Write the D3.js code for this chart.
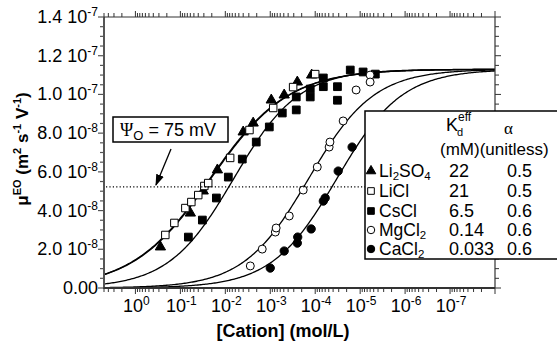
<!DOCTYPE html>
<html>
<head>
<meta charset="utf-8">
<script src="https://cdn.jsdelivr.net/npm/d3@7"></script>
<style>
  html, body { margin: 0; padding: 0; background: #fff; }
  svg { display: block; font-family: "Liberation Sans", Arial, Helvetica, sans-serif; }
</style>
</head>
<body>
<svg id="chart" width="557" height="343"></svg>
<script>
// ---------------- DATA ----------------
const seriesNames = ["Li2SO4", "LiCl", "CsCl", "MgCl2", "CaCl2"];
const kdEff_mM   = [22, 21, 6.5, 0.14, 0.033];      // legend K_d^eff (mM)
const alphaVals  = [0.5, 0.5, 0.6, 0.6, 0.6];       // legend alpha
const kdLabels   = ["22", "21", "6.5", "0.14", "0.033"];
const alphaLabels= ["0.5", "0.5", "0.6", "0.6", "0.6"];
const muMax = 1.13e-7;                               // plateau of fitted curves

// measured points: [Cation] (mol/L), mobility (m2 s-1 V-1)
const li2so4Conc = [0.278, 0.060, 0.031, 0.015, 0.004, 0.0024, 9.5e-4, 4.9e-4, 2.5e-4, 1.2e-4];
const li2so4Mu   = [2.12e-8, 3.87e-8, 5.01e-8, 6.10e-8, 8.06e-8, 8.52e-8, 9.71e-8, 9.97e-8, 1.064e-7, 1.10e-7];

const liclConc = [0.216, 0.136, 0.0774, 0.057, 0.040, 0.0293, 0.024, 0.0078, 0.0029, 8.6e-4, 3.1e-4, 1.0e-4];
const liclMu   = [2.74e-8, 3.36e-8, 4.13e-8, 4.44e-8, 4.80e-8, 5.27e-8, 5.42e-8, 6.72e-8, 8.16e-8, 9.30e-8, 1.038e-7, 1.105e-7];

const csclConc = [0.0664, 0.0324, 0.0158, 0.00857, 0.00419, 0.00205, 0.00105, 5.4e-4, 2.64e-4, 2.64e-4, 1.29e-4, 1.29e-4, 6.6e-5, 6.6e-5, 3.2e-5, 3.2e-5, 1.66e-5, 8.6e-6, 4.6e-6];
const csclMu   = [2.63e-8, 3.51e-8, 4.65e-8, 5.73e-8, 6.66e-8, 7.54e-8, 8.32e-8, 9.04e-8, 9.87e-8, 9.20e-8, 1.028e-7, 9.87e-8, 1.085e-7, 1.04e-7, 1.04e-7, 9.7e-8, 1.126e-7, 1.116e-7, 1.105e-7];

const mgcl2Conc = [2.78e-3, 1.51e-3, 7.7e-4, 7.4e-4, 3.78e-4, 1.85e-4, 9.0e-5, 4.9e-5, 4.7e-5, 2.39e-5, 1.23e-5, 6.0e-6, 6.0e-6];
const mgcl2Mu   = [1.14e-8, 2.01e-8, 2.89e-8, 3.10e-8, 3.72e-8, 5.06e-8, 6.25e-8, 7.28e-8, 7.54e-8, 8.63e-8, 1.023e-7, 1.10e-7, 1.064e-7];

const cacl2Conc = [1.0e-3, 4.9e-4, 2.5e-4, 2.45e-4, 1.23e-4, 6.6e-5, 6.0e-5, 3.08e-5, 1.51e-5];
const cacl2Mu   = [1.03e-8, 1.91e-8, 2.32e-8, 2.63e-8, 3.05e-8, 4.49e-8, 4.65e-8, 6.04e-8, 7.28e-8];

const xTickValues = [1, 1e-1, 1e-2, 1e-3, 1e-4, 1e-5, 1e-6, 1e-7];
const xTickExp    = ["0", "-1", "-2", "-3", "-4", "-5", "-6", "-7"];
const yTickValues = [0, 2e-8, 4e-8, 6e-8, 8e-8, 1.0e-7, 1.2e-7, 1.4e-7];
const yTickMant   = ["0.00", "2.0", "4.0", "6.0", "8.0", "1.0", "1.2", "1.4"];
const yTickExp    = [null, "-8", "-8", "-8", "-8", "-7", "-7", "-7"];
const refLevel = 5.22e-8;   // dotted line (Psi_O = 75 mV)

// ---------------- LAYOUT ----------------
const svg = d3.select("#chart");
const L = 104, R = 495, T = 17, B = 288;
const x = d3.scaleLog().domain([5, 1e-8]).range([L, R]);
const y = d3.scaleLinear().domain([0, 1.4e-7]).range([B, T]);
const ink = "#000";
const axisCol = "#333";

const seriesData = [
  {conc: li2so4Conc, mu: li2so4Mu, sym: d3.symbolTriangle, fill: ink, size: 46},
  {conc: liclConc,   mu: liclMu,   sym: d3.symbolSquare,   fill: "#fff", size: 56},
  {conc: csclConc,   mu: csclMu,   sym: d3.symbolSquare,   fill: ink, size: 60},
  {conc: mgcl2Conc,  mu: mgcl2Mu,  sym: d3.symbolCircle,   fill: "#fff", size: 50},
  {conc: cacl2Conc,  mu: cacl2Mu,  sym: d3.symbolCircle,   fill: ink, size: 54}
];

svg.append("defs").append("clipPath").attr("id", "plotclip")
  .append("rect").attr("x", L).attr("y", T).attr("width", R - L).attr("height", B - T);

// ---------------- FIT CURVES (from legend Kd and alpha) ----------------
const gCurves = svg.append("g").attr("clip-path", "url(#plotclip)");
const logGrid = d3.range(0, 301).map(i => Math.pow(10, Math.log10(5) - i * (Math.log10(5) + 8) / 300));
kdEff_mM.forEach((kd, i) => {
  const K = kd * 1e-3, a = alphaVals[i];
  const pts = logGrid.map(c => [c, muMax / (1 + Math.pow(c / K, a))]);
  gCurves.append("path")
    .attr("d", d3.line().x(d => x(d[0])).y(d => y(d[1])).curve(d3.curveLinear)(pts))
    .attr("fill", "none").attr("stroke", ink).attr("stroke-width", 1.3);
});

// ---------------- POINTS ----------------
const gPts = svg.append("g");
seriesData.forEach(s => {
  const sym = d3.symbol().type(s.sym).size(s.size);
  s.conc.forEach((c, j) => {
    gPts.append("path")
      .attr("d", sym())
      .attr("transform", `translate(${x(c)},${y(s.mu[j])})`)
      .attr("fill", s.fill).attr("stroke", ink).attr("stroke-width", 1);
  });
});

// ---------------- DOTTED LINE ----------------
svg.append("line")
  .attr("x1", L + 2).attr("x2", 365).attr("y1", y(refLevel)).attr("y2", y(refLevel))
  .attr("stroke", ink).attr("stroke-width", 1.2).attr("stroke-dasharray", "1.2,2.2");

// ---------------- AXES ----------------
const gAx = svg.append("g");
gAx.append("line").attr("x1", L).attr("x2", L).attr("y1", T).attr("y2", B).attr("stroke", "#555").attr("stroke-width", 2);
gAx.append("line").attr("x1", L - 1).attr("x2", R).attr("y1", B).attr("y2", B).attr("stroke", axisCol).attr("stroke-width", 2);
gAx.append("line").attr("x1", L).attr("x2", R).attr("y1", T).attr("y2", T).attr("stroke", axisCol).attr("stroke-width", 1.2);
gAx.append("line").attr("x1", R).attr("x2", R).attr("y1", T).attr("y2", B).attr("stroke", axisCol).attr("stroke-width", 1.2);

// y ticks (major every 2e-8, minor every 5e-9)
const yMinor = d3.range(0, 29).map(i => i * 5e-9);
yMinor.forEach(v => {
  const major = yTickValues.some(t => Math.abs(t - v) < 1e-12);
  const len = major ? 6 : 4;
  gAx.append("line").attr("x1", L - len).attr("x2", L).attr("y1", y(v)).attr("y2", y(v))
    .attr("stroke", "#555").attr("stroke-width", 1.2);
  gAx.append("line").attr("x1", R).attr("x2", R + len).attr("y1", y(v)).attr("y2", y(v))
    .attr("stroke", axisCol).attr("stroke-width", 1);
});

// x ticks (log)
const xMinor = [];
for (let d = -8; d <= 0; d++) for (let k = 1; k <= 9; k++) {
  const v = k * Math.pow(10, d);
  if (v <= 5.0001 && v >= 1e-8) xMinor.push({v, major: k === 1});
}
xMinor.forEach(t => {
  const len = t.major ? 6 : 4;
  const px = x(t.v);
  gAx.append("line").attr("x1", px).attr("x2", px).attr("y1", B).attr("y2", B + len).attr("stroke", axisCol).attr("stroke-width", 1);
  gAx.append("line").attr("x1", px).attr("x2", px).attr("y1", T - len).attr("y2", T).attr("stroke", axisCol).attr("stroke-width", 1);
});

// y tick labels
yTickValues.forEach((v, i) => {
  const t = gAx.append("text").attr("x", 98).attr("y", y(v) + 6)
    .attr("text-anchor", "end").attr("font-size", 18).attr("fill", ink);
  if (yTickExp[i] === null) {
    t.text(yTickMant[i]);
  } else {
    t.append("tspan").text(yTickMant[i] + " 10");
    t.append("tspan").attr("dy", -7).attr("font-size", 12).text(yTickExp[i]);
  }
});

// x tick labels
xTickValues.forEach((v, i) => {
  const t = gAx.append("text").attr("x", x(v) + 1).attr("y", 312)
    .attr("text-anchor", "middle").attr("font-size", 18).attr("fill", ink);
  t.append("tspan").text("10");
  t.append("tspan").attr("dy", -7).attr("font-size", 12).text(xTickExp[i]);
});

// axis titles
svg.append("text").attr("x", 283).attr("y", 337).attr("text-anchor", "middle")
  .attr("font-size", 18).attr("font-weight", "bold").text("[Cation] (mol/L)");

const yt = svg.append("text").attr("transform", "translate(28,149) rotate(-90)")
  .attr("text-anchor", "middle").attr("font-size", 17).attr("font-weight", "bold");
yt.append("tspan").text("\u03bc");
yt.append("tspan").attr("dy", -7).attr("font-size", 11).text("EO");
yt.append("tspan").attr("dy", 7).text(" (m");
yt.append("tspan").attr("dy", -7).attr("font-size", 11).text("2");
yt.append("tspan").attr("dy", 7).text(" s");
yt.append("tspan").attr("dy", -7).attr("font-size", 11).text("-1");
yt.append("tspan").attr("dy", 7).text(" V");
yt.append("tspan").attr("dy", -7).attr("font-size", 11).text("-1");
yt.append("tspan").attr("dy", 7).text(")");

// ---------------- PSI ANNOTATION ----------------
svg.append("rect").attr("x", 113).attr("y", 117).attr("width", 115).attr("height", 25)
  .attr("fill", "#fff").attr("stroke", ink).attr("stroke-width", 1.5);
const pt = svg.append("text").attr("x", 120).attr("y", 136).attr("font-size", 18).attr("fill", ink);
pt.append("tspan").attr("font-family", "'Liberation Serif', 'DejaVu Serif', serif").text("\u03a8");
pt.append("tspan").attr("dy", 4).attr("font-size", 13).text("O");
pt.append("tspan").attr("dy", -4).text(" = 75 mV");

svg.append("defs").append("marker").attr("id", "arrowhead")
  .attr("viewBox", "0 0 10 10").attr("refX", 9).attr("refY", 5)
  .attr("markerWidth", 9).attr("markerHeight", 9).attr("orient", "auto")
  .append("path").attr("d", "M0,1.5 L10,5 L0,8.5 Z").attr("fill", ink);
svg.append("line").attr("x1", 171).attr("y1", 149).attr("x2", 156).attr("y2", 185)
  .attr("stroke", ink).attr("stroke-width", 1.3).attr("marker-end", "url(#arrowhead)");

// ---------------- LEGEND ----------------
const lg = svg.append("g");
lg.append("rect").attr("x", 365).attr("y", 111).attr("width", 200).attr("height", 148)
  .attr("fill", "#fff").attr("stroke", ink).attr("stroke-width", 1.5);
const hk = lg.append("text").attr("x", 446).attr("y", 131).attr("font-size", 18).attr("fill", ink);
hk.append("tspan").text("K");
hk.append("tspan").attr("dy", -10).attr("font-size", 12).text("eff");
lg.append("text").attr("x", 457).attr("y", 136).attr("font-size", 11).attr("fill", ink).text("d");
lg.append("text").attr("x", 504).attr("y", 134).attr("font-size", 17).attr("font-family", "'Liberation Serif', serif").text("\u03b1");
lg.append("text").attr("x", 440).attr("y", 155).attr("font-size", 17).attr("fill", ink).text("(mM)(unitless)");

const rowY = [171, 191, 211, 230, 249];
seriesNames.forEach((name, i) => {
  const s = seriesData[i];
  const sz = s.sym === d3.symbolTriangle ? 40 : 44;
  lg.append("path").attr("d", d3.symbol().type(s.sym).size(sz)())
    .attr("transform", `translate(371,${rowY[i]})`)
    .attr("fill", s.fill).attr("stroke", ink).attr("stroke-width", 1);
  const t = lg.append("text").attr("x", 379).attr("y", rowY[i] + 6).attr("font-size", 17.5).attr("fill", ink);
  const parts = name.match(/[A-Za-z]+|\d+/g);
  let sub = false;
  parts.forEach(p => {
    if (/\d/.test(p)) {
      t.append("tspan").attr("dy", sub ? 0 : 3).attr("font-size", 11.5).text(p);
      sub = true;
    } else {
      t.append("tspan").attr("dy", sub ? -3 : 0).text(p);
      sub = false;
    }
  });
  lg.append("text").attr("x", 449).attr("y", rowY[i] + 6).attr("font-size", 18).text(kdLabels[i]);
  lg.append("text").attr("x", 507).attr("y", rowY[i] + 6).attr("font-size", 18).text(alphaLabels[i]);
});
</script>
</body>
</html>
